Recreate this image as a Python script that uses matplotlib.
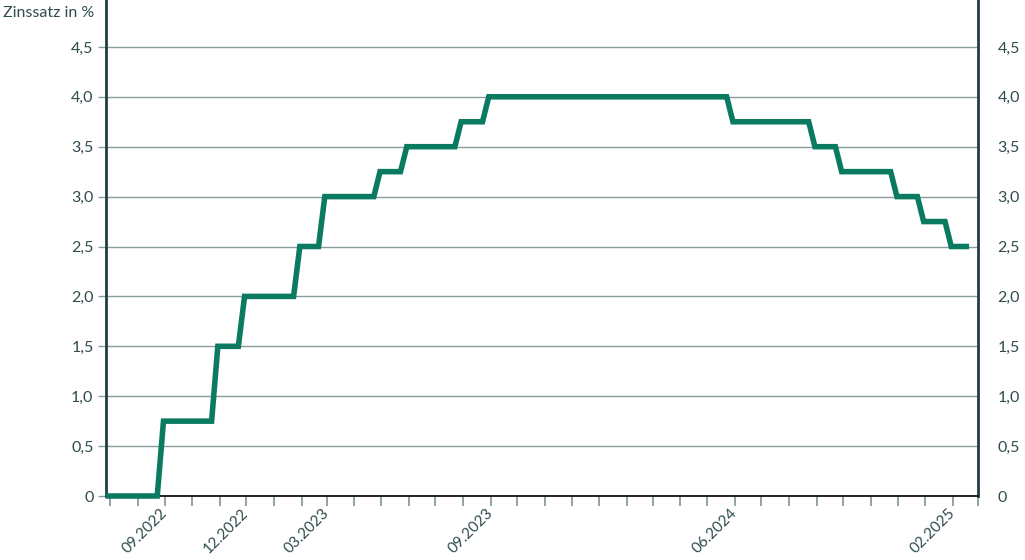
import matplotlib
matplotlib.use("Agg")
import matplotlib.pyplot as plt
import pandas as pd

# ---- data ----
dates = ["2022-06-26", "2022-08-23", "2022-08-30",
         "2022-10-23", "2022-10-30",
         "2022-11-22", "2022-11-29",
         "2023-01-23", "2023-01-30",
         "2023-02-20", "2023-02-27",
         "2023-04-23", "2023-04-30",
         "2023-05-23", "2023-05-30",
         "2023-07-23", "2023-07-30",
         "2023-08-23", "2023-08-30",
         "2024-05-23", "2024-05-30",
         "2024-08-23", "2024-08-30",
         "2024-09-22", "2024-09-29",
         "2024-11-23", "2024-11-30",
         "2024-12-23", "2024-12-30",
         "2025-01-23", "2025-01-30",
         "2025-02-19"]
rates = [0.0, 0.0, 0.75,
         0.75, 1.5,
         1.5, 2.0,
         2.0, 2.5,
         2.5, 3.0,
         3.0, 3.25,
         3.25, 3.5,
         3.5, 3.75,
         3.75, 4.0,
         4.0, 3.75,
         3.75, 3.5,
         3.5, 3.25,
         3.25, 3.0,
         3.0, 2.75,
         2.75, 2.5,
         2.5]
y_ticks = [0, 0.5, 1.0, 1.5, 2.0, 2.5, 3.0, 3.5, 4.0, 4.5]
y_labels = ["0", "0,5", "1,0", "1,5", "2,0", "2,5", "3,0", "3,5", "4,0", "4,5"]
x_label_months = ["09.2022", "12.2022", "03.2023", "09.2023", "06.2024", "02.2025"]
y_title = "Zinssatz in %"

# ---- style ----
plt.rcParams['font.family'] = ['Lato', 'DejaVu Sans']
TEXT = "#2f4b4e"
LINE = "#0a7b61"
GRID = "#8a9b9b"
SPINE = "#223d40"
FS = 11.5

W, H = 1025, 560
fig = plt.figure(figsize=(W / 100, H / 100), dpi=100)
ax = fig.add_axes([106 / W, 1 - 496 / H, (978 - 106) / W, 496 / H])

x = pd.to_datetime(dates)
ax.plot(x, rates, color=LINE, lw=4.0, solid_joinstyle='miter',
        solid_capstyle='butt', clip_on=False, zorder=5)

ax.set_xlim(pd.Timestamp("2022-06-26 12:00"), pd.Timestamp("2025-03-01"))
ax.set_ylim(0, 4.97)

# y axis
ax.set_yticks(y_ticks)
ax.set_yticklabels(y_labels)
ax.yaxis.grid(True, color=GRID, lw=1.0)
ax.tick_params(axis='y', which='both', length=6, width=1.0, color=GRID,
               labelsize=FS, labelcolor=TEXT, pad=3)

# right labels
ax2 = ax.twinx()
ax2.set_ylim(ax.get_ylim())
ax2.set_yticks(y_ticks)
ax2.set_yticklabels(y_labels)
ax2.tick_params(axis='y', length=0, labelsize=FS, labelcolor=TEXT, pad=14)
for s in ax2.spines.values():
    s.set_visible(False)

# x axis
months = pd.date_range("2022-07-01", "2025-03-01", freq="MS")
ax.set_xticks(months)
labels = [m.strftime("%m.%Y") if m.strftime("%m.%Y") in x_label_months else "" for m in months]
ax.set_xticklabels(labels, rotation=45, ha='right', va='center', rotation_mode='anchor')
ax.tick_params(axis='x', length=7, width=1.3, color=GRID, labelsize=11,
               labelcolor=TEXT, pad=4)

ax.spines['top'].set_visible(False)
ax.spines['left'].set_color(SPINE)
ax.spines['left'].set_linewidth(2.0)
ax.spines['right'].set_color(SPINE)
ax.spines['right'].set_linewidth(2.0)
ax.spines['bottom'].set_color("#111111")
ax.spines['bottom'].set_linewidth(1.3)
ax.set_axisbelow(True)

fig.text(3 / W, 1 - 13 / H, y_title, ha='left', va='center', fontsize=FS, color=TEXT)

fig.savefig("out.png", dpi=100)
